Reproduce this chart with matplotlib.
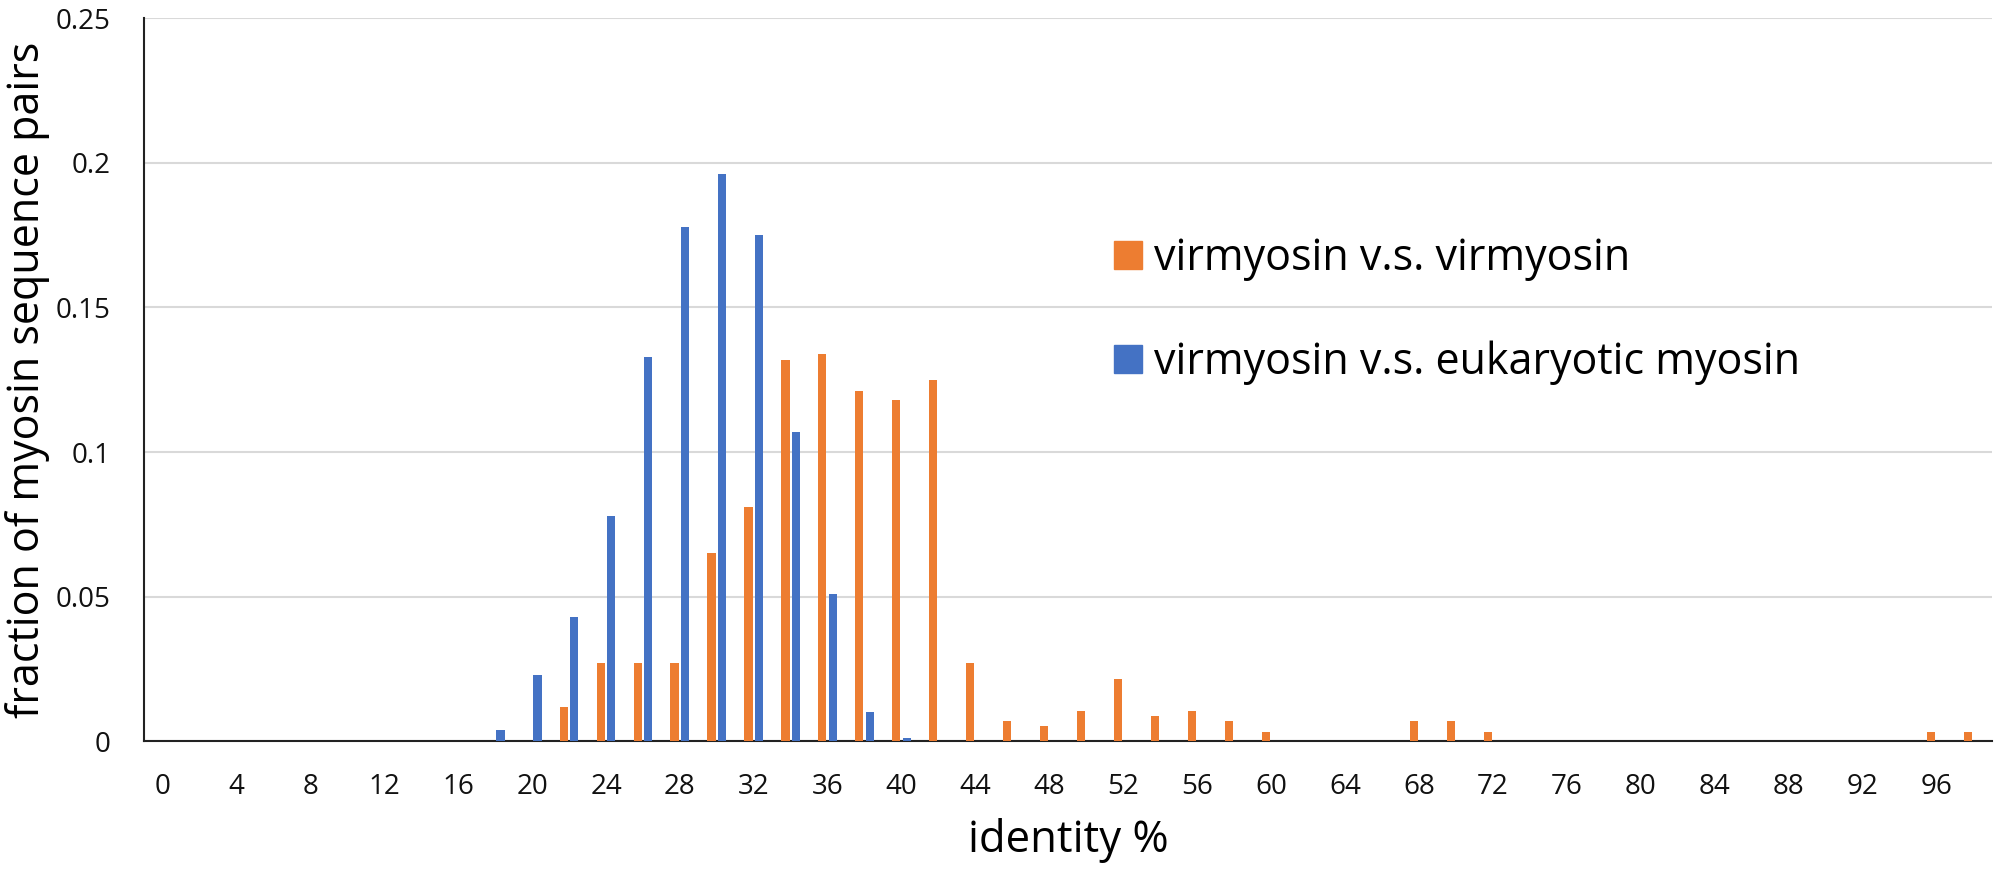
import numpy as np
import matplotlib.pyplot as plt
import matplotlib.patches as mpatches

plt.rcParams['font.family'] = ['Open Sans', 'DejaVu Sans']

# identity % bins (every 2 %), labels shown every 4 %
identity = list(range(0, 100, 2))

# virmyosin v.s. virmyosin (orange)
vir_vir = {22: 0.012, 24: 0.027, 26: 0.027, 28: 0.027, 30: 0.065, 32: 0.081,
           34: 0.132, 36: 0.134, 38: 0.121, 40: 0.118, 42: 0.125, 44: 0.027,
           46: 0.0069, 48: 0.0051, 50: 0.0106, 52: 0.0215, 54: 0.0087,
           56: 0.0106, 58: 0.0069, 60: 0.0033, 68: 0.0069, 70: 0.0069,
           72: 0.0033, 96: 0.0033, 98: 0.0033}

# virmyosin v.s. eukaryotic myosin (blue)
vir_euk = {18: 0.004, 20: 0.023, 22: 0.043, 24: 0.078, 26: 0.133, 28: 0.178,
           30: 0.196, 32: 0.175, 34: 0.107, 36: 0.051, 38: 0.010, 40: 0.001}

orange_vals = [vir_vir.get(b, 0.0) for b in identity]
blue_vals = [vir_euk.get(b, 0.0) for b in identity]

ORANGE = '#ED7D31'
BLUE = '#4472C4'

fig = plt.figure(figsize=(20, 8.72), dpi=100)
ax = fig.add_axes([0.072, 0.150, 0.924, 0.829])

x = np.arange(len(identity))
w = 0.22
off = 0.145
ax.bar(x - off, orange_vals, width=w, color=ORANGE, zorder=3)
ax.bar(x + off, blue_vals, width=w, color=BLUE, zorder=3)

ax.set_xlim(-0.5, len(identity) - 0.5)
ax.set_ylim(0, 0.25)

ax.set_xticks(x[::2])
ax.set_xticklabels([str(b) for b in identity[::2]])
yt = [0, 0.05, 0.1, 0.15, 0.2, 0.25]
ax.set_yticks(yt)
ax.set_yticklabels(['0', '0.05', '0.1', '0.15', '0.2', '0.25'])
ax.tick_params(axis='both', length=0, labelsize=20, colors='#111111')
ax.tick_params(axis='x', pad=23)
ax.tick_params(axis='y', pad=24)

ax.grid(axis='y', color='#D9D9D9', linewidth=1.5, zorder=0)
ax.set_axisbelow(True)
for s in ['top', 'right']:
    ax.spines[s].set_visible(False)
ax.spines['left'].set_color('#222222')
ax.spines['bottom'].set_color('#222222')
ax.spines['left'].set_linewidth(1.5)
ax.spines['bottom'].set_linewidth(1.5)

ax.set_xlabel('identity %', fontsize=31.5, va='center')
ax.xaxis.set_label_coords(0.5, -0.138)
ax.set_ylabel('fraction of myosin sequence pairs', fontsize=31, va='center')
ax.yaxis.set_label_coords(-0.0628, 0.5)

orange_patch = mpatches.Patch(color=ORANGE, label='virmyosin v.s. virmyosin')
blue_patch = mpatches.Patch(color=BLUE, label='virmyosin v.s. eukaryotic myosin')
ax.legend(handles=[orange_patch, blue_patch], loc='upper left',
          bbox_to_anchor=(0.525, 0.698), frameon=False, fontsize=31,
          borderpad=0, borderaxespad=0, handlelength=0.65, handleheight=0.65,
          handletextpad=0.28, labelspacing=1.38)

plt.savefig('out.png', dpi=100)
